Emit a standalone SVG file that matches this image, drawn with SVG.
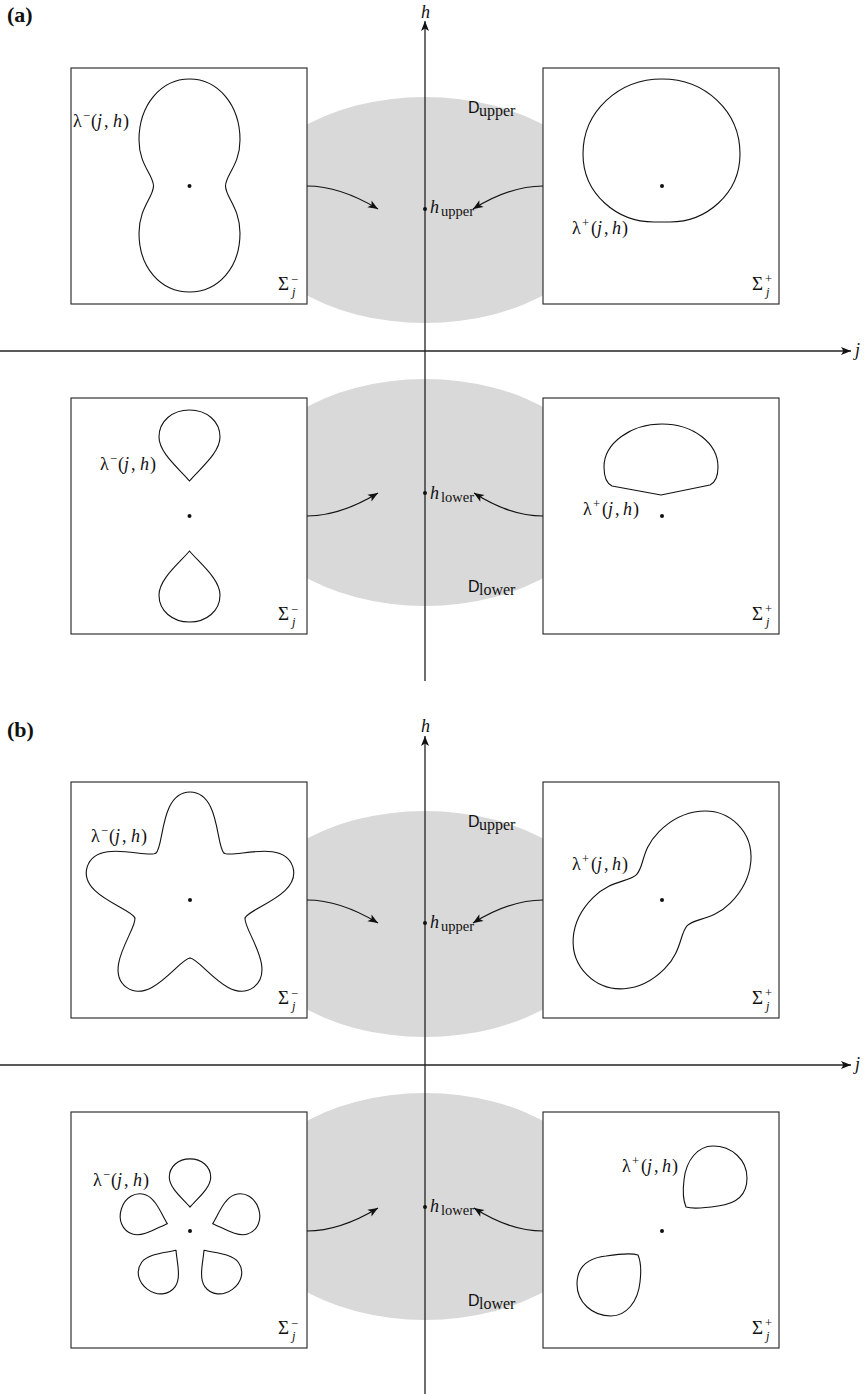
<svg xmlns="http://www.w3.org/2000/svg" xmlns:xlink="http://www.w3.org/1999/xlink" width="866" height="1394" viewBox="0 0 866 1394">
<style>
.box{fill:#fff;stroke:#333;stroke-width:1.2}
.cv{fill:none;stroke:#111;stroke-width:1.1;stroke-linecap:round;stroke-linejoin:round}
.ell{fill:#d9d9d9}
.ax{fill:none;stroke:#222;stroke-width:1.3;marker-end:url(#ah)}
.arr{fill:none;stroke:#111;stroke-width:1.2;marker-end:url(#ah)}
.dot{fill:#111}
.t{font-family:"Liberation Serif",serif;font-size:18px;fill:#111}
.it{font-style:italic}
.s{font-size:12.5px}
.sig{font-size:19px}
.d{font-family:"Liberation Sans",sans-serif;font-size:16px}
.lab{font-family:"Liberation Serif",serif;font-size:22px;font-weight:bold;fill:#111}
</style>
<defs>
<marker id="ah" markerUnits="userSpaceOnUse" markerWidth="12" markerHeight="10" refX="10" refY="5" orient="auto" overflow="visible">
<path d="M0,1 L10,5 L0,9 L2.5,5 Z" fill="#111"/>
</marker>
<path id="peanut" d="M0,-107 C28.5,-107 50.5,-81 50.5,-46 C50.5,-21 36,-11 36,0 C36,11 50.5,22 50.5,47 C50.5,82 28.5,106 0,106 C-28.5,106 -50.5,82 -50.5,47 C-50.5,22 -36,11 -36,0 C-36,-11 -50.5,-21 -50.5,-46 C-50.5,-81 -28.5,-107 0,-107 Z"/>
<path id="drop" d="M0,-106 C17,-106 30.5,-95 30.5,-79 C30.5,-63 10,-47 0,-35 C-10,-47 -30.5,-63 -30.5,-79 C-30.5,-95 -17,-106 0,-106 Z"/>
<path id="drop2" d="M0,-72.1 C11.6,-72.1 20.7,-64.6 20.7,-53.7 C20.7,-42.8 6.8,-32 0,-23.8 C-6.8,-32 -20.7,-42.8 -20.7,-53.7 C-20.7,-64.6 -11.6,-72.1 0,-72.1 Z"/>
<path id="lobe" d="M-34.1,-46.9 C-26,-52.8 -30,-108 0,-108 C30,-108 26,-52.8 34.1,-46.9"/>
<path id="quad" d="M24,-24 C21,-31 21,-43 22,-51 C24,-71 36,-85 51,-85 C70,-85 85,-71 85,-53 C85,-35 73,-27 56,-25 C43,-23 30,-22 24,-24 Z"/>
</defs>

<!-- regions -->
<g id="regions">
<ellipse class="ell" cx="425" cy="210" rx="180" ry="113"/>
<ellipse class="ell" cx="425" cy="492.5" rx="180" ry="113.5"/>
<ellipse class="ell" cx="425" cy="924" rx="180" ry="113"/>
<ellipse class="ell" cx="425" cy="1206.5" rx="180" ry="113.5"/>
</g>

<text class="lab" x="7" y="22">(a)</text>
<text class="lab" x="7" y="737">(b)</text>

<!-- (a) upper left -->
<g id="a-ul">
<rect class="box" x="71" y="68" width="236" height="236"/>
<use class="cv" xlink:href="#peanut" transform="translate(189.5,186)"/>
<circle class="dot" cx="189.5" cy="186" r="2"/>
<text class="t" y="127"><tspan x="73">λ</tspan><tspan x="83" dy="-7" class="s">−</tspan><tspan x="91" dy="7">(</tspan><tspan x="97" class="it">j</tspan><tspan x="104">,</tspan><tspan x="113" class="it">h</tspan><tspan x="123">)</tspan></text>
<text class="t sig" x="278" y="290">Σ</text><text class="t s" x="291" y="284">−</text><text class="t s it" x="292" y="296">j</text>
</g>

<!-- (a) upper right -->
<g id="a-ur">
<rect class="box" x="543" y="68" width="236" height="236"/>
<path class="cv" d="M662,79 C705,79 740,111 740,154 C740,194 706,222 670,222 L654,222 C617,222 583,194 583,154 C583,111 619,79 662,79 Z"/>
<circle class="dot" cx="662" cy="186" r="2"/>
<text class="t" y="234"><tspan x="572">λ</tspan><tspan x="582" dy="-7" class="s">+</tspan><tspan x="591" dy="7">(</tspan><tspan x="597" class="it">j</tspan><tspan x="604">,</tspan><tspan x="612" class="it">h</tspan><tspan x="622">)</tspan></text>
<text class="t sig" x="752" y="290">Σ</text><text class="t s" x="765" y="283">+</text><text class="t s it" x="766" y="296">j</text>
</g>

<!-- (a) lower left -->
<g id="a-ll">
<rect class="box" x="71" y="398" width="236" height="236"/>
<use class="cv" xlink:href="#drop" transform="translate(189.5,516)"/>
<use class="cv" xlink:href="#drop" transform="translate(189.5,516) rotate(180)"/>
<circle class="dot" cx="189.5" cy="516" r="2"/>
<text class="t" y="470"><tspan x="100">λ</tspan><tspan x="110" dy="-7" class="s">−</tspan><tspan x="118" dy="7">(</tspan><tspan x="124" class="it">j</tspan><tspan x="131">,</tspan><tspan x="140" class="it">h</tspan><tspan x="150">)</tspan></text>
<text class="t sig" x="278" y="620">Σ</text><text class="t s" x="291" y="614">−</text><text class="t s it" x="292" y="626">j</text>
</g>

<!-- (a) lower right -->
<g id="a-lr">
<rect class="box" x="543" y="398" width="236" height="236"/>
<path class="cv" d="M662,424 C693,424 718,443 718,467 C718,476 716,482 710,485 L661,495 L612,486 C606,483 604,476 604,467 C604,443 631,424 662,424 Z"/>
<circle class="dot" cx="662" cy="516" r="2"/>
<text class="t" y="515"><tspan x="583">λ</tspan><tspan x="593" dy="-7" class="s">+</tspan><tspan x="602" dy="7">(</tspan><tspan x="608" class="it">j</tspan><tspan x="615">,</tspan><tspan x="623" class="it">h</tspan><tspan x="633">)</tspan></text>
<text class="t sig" x="752" y="620">Σ</text><text class="t s" x="765" y="613">+</text><text class="t s it" x="766" y="626">j</text>
</g>

<!-- (b) upper left -->
<g id="b-ul">
<rect class="box" x="71" y="782" width="236" height="236"/>
<g transform="translate(190,900)">
<use class="cv" xlink:href="#lobe"/>
<use class="cv" xlink:href="#lobe" transform="rotate(72)"/>
<use class="cv" xlink:href="#lobe" transform="rotate(144)"/>
<use class="cv" xlink:href="#lobe" transform="rotate(216)"/>
<use class="cv" xlink:href="#lobe" transform="rotate(288)"/>
</g>
<circle class="dot" cx="190" cy="900" r="2"/>
<text class="t" y="842"><tspan x="91">λ</tspan><tspan x="101" dy="-7" class="s">−</tspan><tspan x="109" dy="7">(</tspan><tspan x="115" class="it">j</tspan><tspan x="122">,</tspan><tspan x="131" class="it">h</tspan><tspan x="141">)</tspan></text>
<text class="t sig" x="278" y="1004">Σ</text><text class="t s" x="291" y="998">−</text><text class="t s it" x="292" y="1010">j</text>
</g>

<!-- (b) upper right -->
<g id="b-ur">
<rect class="box" x="543" y="782" width="236" height="236"/>
<use class="cv" xlink:href="#peanut" transform="translate(662,900) rotate(45)"/>
<circle class="dot" cx="662" cy="900" r="2"/>
<text class="t" y="870"><tspan x="572">λ</tspan><tspan x="582" dy="-7" class="s">+</tspan><tspan x="591" dy="7">(</tspan><tspan x="597" class="it">j</tspan><tspan x="604">,</tspan><tspan x="612" class="it">h</tspan><tspan x="622">)</tspan></text>
<text class="t sig" x="752" y="1004">Σ</text><text class="t s" x="765" y="997">+</text><text class="t s it" x="766" y="1010">j</text>
</g>

<!-- (b) lower left -->
<g id="b-ll">
<rect class="box" x="71" y="1112" width="236" height="236"/>
<g transform="translate(190,1231)">
<use class="cv" xlink:href="#drop2"/>
<use class="cv" xlink:href="#drop2" transform="rotate(72)"/>
<use class="cv" xlink:href="#drop2" transform="rotate(144)"/>
<use class="cv" xlink:href="#drop2" transform="rotate(216)"/>
<use class="cv" xlink:href="#drop2" transform="rotate(288)"/>
</g>
<circle class="dot" cx="190" cy="1231" r="2"/>
<text class="t" y="1186"><tspan x="93">λ</tspan><tspan x="103" dy="-7" class="s">−</tspan><tspan x="111" dy="7">(</tspan><tspan x="117" class="it">j</tspan><tspan x="124">,</tspan><tspan x="133" class="it">h</tspan><tspan x="143">)</tspan></text>
<text class="t sig" x="278" y="1334">Σ</text><text class="t s" x="291" y="1328">−</text><text class="t s it" x="292" y="1340">j</text>
</g>

<!-- (b) lower right -->
<g id="b-lr">
<rect class="box" x="543" y="1112" width="236" height="236"/>
<g transform="translate(662,1231)">
<use class="cv" xlink:href="#quad"/>
<use class="cv" xlink:href="#quad" transform="rotate(180)"/>
</g>
<circle class="dot" cx="662" cy="1231" r="2"/>
<text class="t" y="1172"><tspan x="622">λ</tspan><tspan x="632" dy="-7" class="s">+</tspan><tspan x="641" dy="7">(</tspan><tspan x="647" class="it">j</tspan><tspan x="654">,</tspan><tspan x="662" class="it">h</tspan><tspan x="672">)</tspan></text>
<text class="t sig" x="752" y="1334">Σ</text><text class="t s" x="765" y="1327">+</text><text class="t s it" x="766" y="1340">j</text>
</g>

<!-- connectors -->
<g id="connectors">
<path class="ax" d="M425,681 L425,21"/>
<path class="ax" d="M0,351 L851,351"/>
<path class="ax" d="M425,1394 L425,736"/>
<path class="ax" d="M0,1065 L851,1065"/>
<path class="arr" d="M307,186 Q340,186 378,209"/>
<path class="arr" d="M543,186 Q510,186 473,209"/>
<path class="arr" d="M307,516 Q340,516 378,493"/>
<path class="arr" d="M543,516 Q510,516 474,493"/>
<path class="arr" d="M307,900 Q340,900 378,923"/>
<path class="arr" d="M543,900 Q510,900 473,923"/>
<path class="arr" d="M307,1231 Q340,1231 378,1208"/>
<path class="arr" d="M543,1231 Q510,1231 474,1208"/>
</g>

<!-- axis points and labels -->
<g id="axis-labels">
<circle class="dot" cx="425" cy="209" r="2"/>
<circle class="dot" cx="425" cy="493" r="2"/>
<circle class="dot" cx="425" cy="923" r="2"/>
<circle class="dot" cx="425" cy="1207" r="2"/>
<text class="t it" x="421" y="18">h</text>
<text class="t it" x="421" y="732">h</text>
<text class="t it" x="855" y="356">j</text>
<text class="t it" x="855" y="1070">j</text>
<text class="t" y="213"><tspan x="430" class="it">h</tspan><tspan x="441" dy="3" style="font-size:14.5px">upper</tspan></text>
<text class="t" y="499"><tspan x="430" class="it">h</tspan><tspan x="441" dy="3" style="font-size:14.5px">lower</tspan></text>
<text class="t" y="928"><tspan x="430" class="it">h</tspan><tspan x="441" dy="3" style="font-size:14.5px">upper</tspan></text>
<text class="t" y="1212"><tspan x="430" class="it">h</tspan><tspan x="441" dy="3" style="font-size:14.5px">lower</tspan></text>
<text class="t" y="113"><tspan x="468" class="d">D</tspan><tspan x="479" dy="3" style="font-size:16px">upper</tspan></text>
<text class="t" y="592"><tspan x="468" class="d">D</tspan><tspan x="479" dy="3" style="font-size:16px">lower</tspan></text>
<text class="t" y="827"><tspan x="468" class="d">D</tspan><tspan x="479" dy="3" style="font-size:16px">upper</tspan></text>
<text class="t" y="1306"><tspan x="468" class="d">D</tspan><tspan x="479" dy="3" style="font-size:16px">lower</tspan></text>
</g>
</svg>
